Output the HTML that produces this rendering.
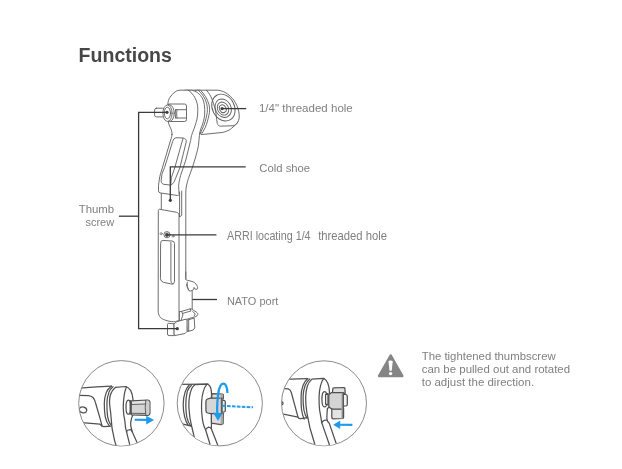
<!DOCTYPE html>
<html lang="en">
<head>
<meta charset="utf-8">
<title>Functions</title>
<style>
html,body{margin:0;padding:0;background:#fff;}
body{width:622px;height:469px;overflow:hidden;position:relative;font-family:"Liberation Sans",sans-serif;}
svg{position:absolute;left:0;top:0;display:block;will-change:transform;}
.h{font-family:"Liberation Sans",sans-serif;font-weight:bold;font-size:19.5px;fill:#474747;}
.t{font-family:"Liberation Sans",sans-serif;font-size:11px;fill:#808080;}
.ld{stroke:#3a3a3a;stroke-width:1.3;fill:none;}
.dot{fill:#3c3c3c;stroke:none;}
.d{stroke:#5c5c5c;stroke-width:0.9;fill:none;stroke-linecap:round;stroke-linejoin:round;}
.dw{stroke:#5c5c5c;stroke-width:0.9;fill:#fff;stroke-linecap:round;stroke-linejoin:round;}
.e{stroke:#505050;stroke-width:1.25;fill:none;stroke-linecap:round;stroke-linejoin:round;}
.ew{stroke:#505050;stroke-width:1.25;fill:#fff;stroke-linecap:round;stroke-linejoin:round;}
.c{stroke:#7d7d7d;stroke-width:0.9;fill:#fff;}
.b{stroke:#1e9bea;fill:none;}
.bf{fill:#1e9bea;stroke:none;}
</style>
</head>
<body>
<svg width="622" height="469" viewBox="0 0 622 469">
<rect x="0" y="0" width="622" height="469" fill="#ffffff"/>

<!-- TEXT -->
<g id="labels">
<text class="h" x="78.6" y="61.9" textLength="93.3" lengthAdjust="spacingAndGlyphs">Functions</text>
<text class="t" style="font-size:11.4px" x="258.9" y="111.6" textLength="93.9" lengthAdjust="spacingAndGlyphs">1/4" threaded hole</text>
<text class="t" style="font-size:11.4px" x="259.3" y="171.6" textLength="50.8" lengthAdjust="spacingAndGlyphs">Cold shoe</text>
<text class="t" x="78.7" y="212.8" textLength="35.5" lengthAdjust="spacingAndGlyphs">Thumb</text>
<text class="t" x="85.4" y="226" textLength="28.8" lengthAdjust="spacingAndGlyphs">screw</text>
<text class="t" style="font-size:12.4px" y="239.7" xml:space="preserve"><tspan x="227" textLength="83.6" lengthAdjust="spacingAndGlyphs">ARRI locating 1/4</tspan><tspan x="312" textLength="75" lengthAdjust="spacingAndGlyphs">  threaded hole</tspan></text>
<text class="t" x="226.9" y="304.7" textLength="51.5" lengthAdjust="spacingAndGlyphs">NATO port</text>
<text class="t" x="421.7" y="360" textLength="134" lengthAdjust="spacingAndGlyphs">The tightened thumbscrew</text>
<text class="t" x="421.7" y="373" textLength="148.4" lengthAdjust="spacingAndGlyphs">can be pulled out and rotated</text>
<text class="t" x="421.7" y="385.7" textLength="112.4" lengthAdjust="spacingAndGlyphs">to adjust the direction.</text>
</g>

<!-- DEVICE -->
<g id="device">
<!-- rosette cylinder -->
<path class="dw" d="M188 90.2H217.8C222 90.6 225.5 92.4 228 94.3C231.5 97 233.8 99.8 235.3 102.5C237.6 106.5 239 111 239.2 114.9C239.4 118 238.9 120.2 237.8 122C236.4 124 234.6 126 230 129.5C227.5 131 225 132 222 132.5L201 134.6L190 120Z"/>
<path class="d" d="M206.5 90.2C209 93 210.8 96 212.1 99.4C214 104.5 215.5 110 216.2 114.9C216.6 118 216.7 121 217.3 123.6C218 125.4 219.2 126.2 220.9 126.2L233.2 125.7C235.6 125.3 237.2 123.8 237.8 122"/>
<ellipse class="d" cx="223.4" cy="107.6" rx="11" ry="14" transform="rotate(-28 223.4 107.6)"/>
<ellipse class="d" cx="223.2" cy="108.2" rx="7.8" ry="9.6" transform="rotate(-28 223.2 108.2)"/>
<ellipse class="d" cx="223" cy="108.6" rx="5.4" ry="6.8" transform="rotate(-28 223 108.6)"/>
<ellipse class="d" cx="222.8" cy="108.7" rx="3.2" ry="4" transform="rotate(-28 222.8 108.7)"/>
<!-- flange -->
<path class="dw" d="M196 90.2H200.3C204 93.5 207.5 99 209 104.6C209.8 108 209.8 111.5 209 114.9C208 120 206.5 124.5 205.4 127.2L202.3 133L196 133Z"/>
<path class="d" d="M198.2 90.2C202 93.5 205.6 98.5 206.8 104C207.6 108 207.6 111.5 206.8 114.9C206 119.5 204.6 123.5 203.4 126.5L200.6 132.6"/>
<!-- arm thickness -->
<path d="M185 90.2H192C195.5 91 198.5 93 200.5 95.5C202.6 98 203.8 101 204.3 104.6C204.8 108 204.9 111.5 204.6 114.9C204.3 119 203 124 201 128.2C200 131 199.6 133 199.4 135.4C199 139 198.9 142.5 198.4 145.7C197.5 151 194.8 160 192.2 168L188.4 178.5C187 183 186 187 185.8 190.9V279.2L178 282V196L170 190Z" fill="#fff" stroke="none"/>
<path class="d" d="M185 90.2H192C195.5 91 198.5 93 200.5 95.5C202.6 98 203.8 101 204.3 104.6C204.8 108 204.9 111.5 204.6 114.9C204.3 119 203 124 201 128.2C200 131 199.6 133 199.4 135.4C199 139 198.9 142.5 198.4 145.7C197.5 151 194.8 160 192.2 168L188.4 178.5C187 183 186 187 185.8 190.9V279.2"/>
<!-- NATO hooks -->
<path class="dw" d="M185.8 272V279.2C186.2 280.1 187 280.3 188 280.4L193.2 281.8C195.4 283 197 285 197.4 286.6C197.8 288.2 197.6 289 197 289.2L194.9 289.1C194.4 288.6 194.1 288 194 287.4C193.9 288.4 193.8 289.2 193.3 289.8L190.8 291C189.8 291.2 189 290.8 188.6 290C187.6 288.4 186.8 286.4 186.5 284.3"/>
<path class="d" d="M187.3 282.2C186.8 285 187.4 288 188.9 290.4"/>
<path class="d" d="M192.2 291V309.4"/>
<path class="dw" d="M181.4 311.4L190.1 308.9C191 308.8 191.6 309 192.2 309.4L196.3 312C197.4 312.8 198 313.6 197.8 314.5C197.6 315.4 196.8 316.2 195.8 316.6L192.2 317.6L182.9 320.5L180.9 320.7L179.3 321.7V312Z"/>
<path class="d" d="M181.4 311.4L182.6 313.4L191 311L190.1 308.9M182.6 313.4L182.9 315L180.9 320.7M192.7 311.4L195.3 314L194.2 315.8"/>
<!-- clamp block -->
<path class="dw" d="M187 320.2L194.2 318.1L194.8 327.9L193.2 330L187.5 331.5Z"/>
<path class="d" d="M188.7 320V331.2"/>
<path class="dw" d="M167.5 324.3Q167.5 323.3 168.5 323.3L174.2 323.8V335.6H169Q167.5 335.6 167.5 334.4Z"/>
<path class="dw" d="M174.2 323.8L176.7 321.7L186 319.1L187 320.7V331.5L185 333.5L174.7 335.6L174.2 334Z"/>
<!-- upper segment -->
<path d="M161.3 192V210H179.6L181.7 215.4V191H179Z" fill="#fff" stroke="none"/>
<path class="d" d="M161.3 193V209.6M179.6 192V217L181.7 215.4V191"/>
<!-- plate -->
<path class="dw" d="M158.3 211C158.3 209.8 158.8 209.2 159.8 209.3L176.5 212.3C178.2 212.7 179 213.6 179 215V320.7L177.3 320.9C176 321.6 175 321.8 173.7 321.7C170.5 321.6 167.6 321 165.4 320.2C162.5 319.2 160.6 318 159.8 316.6C158.8 315 158.3 313.4 158.2 311.4Z"/>
<circle class="d" cx="167" cy="234.7" r="3.1"/>
<circle class="d" cx="167" cy="234.7" r="1.6"/>
<circle class="d" cx="161.1" cy="233.7" r="1.1" style="stroke-width:0.65"/>
<circle class="d" cx="173.1" cy="236.2" r="1" style="stroke-width:0.65"/>
<path class="d" d="M160.6 243Q160.6 240.3 163 240.4L172 241Q174.5 241.2 174.5 243.5V281.3Q174.3 284.2 172.2 284.2L163.4 282.3Q160.8 281.4 160.5 279.2Z"/>
<path class="d" d="M170.9 242.5V280.5Q171 283 172.6 284"/>
<!-- arm front face -->
<path class="dw" d="M172 134.5C172 132 171.5 130 170.6 128.2C169.5 126 168.6 124 168.3 122C167.6 116 167.4 108 168 102.5C168.5 99.5 169.6 97.5 171 96C172.6 93.8 174.6 92 176.5 91C177.6 90.4 178.5 90.2 180 90.2H188C190.5 91.5 193.3 94.5 195.3 98.4C197 102 197.8 105.5 197.8 109.7C197.8 113.5 197.6 117 196.8 120C196 123 194.5 128 193.2 131C192.2 133.5 191.6 135 191.2 137C190.9 138.6 190.8 139.6 190.6 140.6L185.8 160L180.6 175.4C179.4 180 178.8 183 178.6 185.7L178.9 190.9L179.1 194.5Q178.7 195.6 177.6 195.5L160 192.9Q158.6 192.4 158.5 190.9V185.7C159 181 159.6 177 160.6 173.4L162.3 168L171.1 138.5C171.6 137 172 136 172 134.5Z"/>
<!-- slot -->
<path class="d" d="M172.8 141Q173.8 137.8 176 137.7L183 138Q186.8 138.6 186.2 142L179.8 168L175.5 178.5Q174.6 183 170.9 185.2L163.1 184.2Q160.8 183 161.1 180.6L162.1 173.4L164.4 168Z"/>
<path class="d" d="M183 138.4L174.7 168L171.4 177.5L170.7 185"/>
<!-- knob -->
<rect class="dw" x="154.6" y="108.2" width="10" height="8.7" rx="1.8"/>
<path class="dw" d="M169 104H184.5Q186.5 104 186.5 106V119.5Q186.5 121.5 184.5 121.5H169Z"/>
<path class="d" d="M175.6 109.7H186.4M175.6 118H186.4M175.6 109.7Q174.8 114 175.6 118M177 109.7Q176.2 114 177 118"/>
<ellipse class="dw" cx="169.6" cy="113.2" rx="4.6" ry="8.3"/>
<ellipse class="dw" cx="167.5" cy="113.2" rx="4.6" ry="8.2"/>
<ellipse class="d" cx="167.4" cy="113" rx="3.1" ry="5.8"/>
</g>

<!-- LEADERS -->
<g id="leaders">
<path class="ld" d="M167 112.3H138.6V328.7H177.3"/>
<path class="ld" d="M118.9 216.2H138.6"/>
<path class="ld" d="M222.1 108.6H246.2"/>
<path class="ld" d="M170.3 200.3V166.8H245.7"/>
<path class="ld" d="M167 234.9H216.4"/>
<path class="ld" d="M192.3 299.5H217"/>
<circle class="dot" cx="167" cy="112.3" r="1.6"/>
<circle class="dot" cx="177.3" cy="328.7" r="1.6"/>
<circle class="dot" cx="222.1" cy="108.6" r="1.6"/>
<circle class="dot" cx="170.3" cy="200.3" r="1.6"/>
<circle class="dot" cx="167" cy="234.9" r="1.6"/>
</g>

<!-- WARNING -->
<g id="warn">
<path d="M390.7 355.6L402.2 376H379.2Z" fill="#858585" stroke="#858585" stroke-width="2.6" stroke-linejoin="round"/>
<path d="M388.5 361.6Q388.5 360.6 390.6 360.6Q392.7 360.6 392.7 361.6L391.7 370.8H389.5Z" fill="#fff"/>
<circle cx="390.6" cy="373.6" r="1.7" fill="#fff"/>
</g>

<!-- CIRCLES -->
<g id="c1">
<clipPath id="cp1"><circle cx="121.4" cy="403.3" r="42.3"/></clipPath>
<circle class="c" cx="121.4" cy="403.3" r="42.7"/>
<g clip-path="url(#cp1)">
<!-- cylinder -->
<path class="e" d="M76 388.4L96.6 386.8L111.5 386.2"/>
<path class="e" d="M76 395.4L88.3 395.7C90.5 395.9 92 396.5 93 397.5C94.2 398.8 95 400.6 95.5 402.7L99.7 417.1L101.8 425.2Q102.2 426.6 103.6 426.6L110.6 426.2"/>
<path class="e" d="M76 422L99.8 424.1L102 426.2"/>
<ellipse class="e" cx="83" cy="409.9" rx="3.7" ry="2.9" transform="rotate(15 83 409.9)"/>
<!-- flange -->
<path class="e" d="M111.5 386.2C108.8 388 107.2 390 106.3 392.4C104.9 396 104.3 400 104.3 403.7C104.3 408.5 104.6 413 105.3 417.1C106 420.5 107.6 424 109.5 426.2"/>
<path class="e" d="M113 386.7C111 388.2 109.8 390 108.9 392.4C107.5 396 106.9 400 106.9 403.7C106.9 408.5 107.1 413 107.7 417.1C108.4 420.5 110 424 112.1 425.9"/>
<!-- arm -->
<path class="ew" d="M115.6 387.3L125.4 386.5C127.6 387 129.4 388.4 130.6 390.4C132 393 132.8 396 133 399.6V415C131.6 417 131 419.5 130.7 422.6C130.6 424.5 130.8 426 131.2 427.7L132.2 431.8L136.8 442.1L140 449H117.3L114.7 441.1L112.1 428.7L110.6 412.3C110 408 109.5 404 109.5 402C109.6 398 110.2 395 111 393.4C112 391 113.6 389 115.6 387.3Z"/>
<path class="e" d="M126.6 386.7C125 390 124.2 394 123.8 398.6C123.4 402 123.2 405.5 123.3 408.9C123.4 413 124 417 124.9 421.2L125.5 427.7L129.6 444.2L131 449"/>
<path class="e" d="M126.6 432.2C126.6 431 127.2 430.3 128.2 430L130.6 429.7C131.4 429.8 131.9 430.6 132.2 431.8"/>
<!-- washer -->
<ellipse class="ew" cx="128.4" cy="407.2" rx="2.4" ry="7"/>
<path class="e" d="M130.2 400.6V414"/>
<!-- hex knob -->
<path class="ew" style="fill:#e6e6e6" d="M131.3 400.8L147.6 400Q149.9 400.3 149.9 402.3V413.1Q149.9 415.2 147.6 415.4L131.3 414.8Z"/>
<path d="M131.9 404.6L145.4 404.2V413.4L131.9 413.2Z" fill="#d5d5d5"/>
<path d="M145.8 400.6L147.6 400.5Q149.4 400.7 149.4 402.3V413.1Q149.4 414.8 147.6 414.9L145.8 415Q144.8 407.6 145.8 400.6Z" fill="#cdcdcd"/>
<path class="e" style="stroke-width:0.9" d="M131.5 404.5L145.4 404M131.5 413.3L145.4 413.5M145.8 400.2Q144.6 407.6 145.8 415.3"/>
<!-- arrow -->
<path class="b" d="M134.6 419.8L147 419.9" stroke-width="2.1"/>
<path class="bf" d="M146.2 415.7L154.1 420.1L146.2 424.5Z"/>
</g>
</g>
<g id="c2">
<clipPath id="cp2"><circle cx="219.8" cy="403.3" r="42.2"/></clipPath>
<circle class="c" cx="219.8" cy="403.3" r="42.6"/>
<g clip-path="url(#cp2)">
<!-- cylinder -->
<path class="e" d="M176 384.5L208 384.2"/>
<path class="e" d="M176 422.5L191.7 426.2"/>
<!-- flange -->
<path class="e" d="M189.4 384.7C187.4 386.6 186.2 388.8 185.3 391.4C183.9 395.6 183.2 400 183.2 404.8C183.2 409 183.7 413.4 184.7 417.2C185.4 420 186.6 423 188.3 425.6"/>
<path class="e" d="M191.4 385.3C189.4 387 188.2 389 187.3 391.4C186.3 395.6 185.8 400 185.8 404.8C185.8 409 186.1 413.4 186.8 417.2C187.4 420 188.8 423.4 190.8 426.2"/>
<!-- arm -->
<path class="ew" d="M195 384.7L207.9 384.2C209.2 385 210 386 210.5 387.3C211.2 389.2 211.5 391.2 211.5 393.5V424L211.3 428.7L217.4 444.2L219 449H197.5L194 436L191.6 426C190.4 421.6 189.4 415.5 189 409C188.8 405 188.8 400.5 189.4 397C190 393 190.9 390.2 192 388C192.8 386.6 193.8 385.5 195 384.7Z"/>
<path class="e" d="M206.9 384.4C205 386.4 204 388.6 203.3 391.4C202.4 394.6 201.8 398 201.7 401.7C201.5 405 201.5 408.6 201.7 412C202 416 202.4 419.5 203 422.6C203.6 425.4 204.4 427.6 205.6 429.8L209.7 443.2L211 449"/>
<path class="e" d="M205.6 429.8C206.4 428.4 207.4 427.4 208.7 427.2C209.8 427.2 210.6 427.8 211.3 428.7"/>
<!-- T knob -->
<path class="ew" style="fill:#dcdcdc" d="M211.8 398.6V394.4Q211.9 393.6 212.8 393.6L222.4 394Q223.3 394.1 223.3 395V398.8Z"/>
<path class="ew" style="fill:#ececec" d="M221.6 400.2L224 400.4Q225.3 400.6 225.3 402V410.4Q225.3 411.8 224 412L221.6 412.2Z"/>
<path class="ew" style="fill:#dedede" d="M211.4 413V423.1L221 424.6L223.1 423.6L223.3 413Z"/>
<path class="ew" style="fill:#d6d6d6" d="M205.9 401.4Q205.9 399.6 207.6 399L210.4 398.2H221.8V413.6H210.6L207.6 413Q205.9 412.4 205.9 410.8Z"/>
<path d="M220.3 394.2H222.6V424L220.6 424.4Z" fill="#a9a9a9"/>
<path class="e" d="M221.8 398.2V413.6"/>
<!-- rotation arrow -->
<path class="b" d="M227.4 392.9C227.4 390.4 227 388 226.3 386.4C225.6 384.7 224.6 383.7 223.3 383.7C222 383.7 221 384.6 220.2 386.2C219.2 388.2 218.5 391 218.1 394.5C217.5 399 217.2 404 217.1 408.9L217.5 414" stroke-width="2.3"/>
<path class="bf" d="M213 412.4L222.3 413.4L218 420.9Z"/>
<path class="b" d="M222.2 405.8L253 407.3" stroke-width="2" stroke-dasharray="3.6 1.3"/>
</g>
</g>
<g id="c3">
<clipPath id="cp3"><circle cx="324" cy="403.3" r="42.1"/></clipPath>
<circle class="c" cx="324" cy="403.3" r="42.5"/>
<g clip-path="url(#cp3)">
<!-- cylinder -->
<path class="e" d="M280 379.6L290.3 379.1L307.8 378.6"/>
<path class="e" d="M280 388.2L288.2 388.9C289.8 389.4 290.8 390.6 291.3 392.5L298 417.2Q298.6 418.8 300.6 418.7L307.8 417.7"/>
<path class="e" d="M280 413.4L298 417.2"/>
<ellipse class="e" cx="282.2" cy="403.3" rx="0.8" ry="1.4"/>
<!-- flange -->
<path class="e" d="M307.8 378.6C305.6 380.4 304.2 382.6 303.1 385.3C301.8 388.8 301.1 392.6 301.1 396.6C301 401 301 405.6 301.6 410C302.1 413.4 303 416.6 304.2 419.2"/>
<path class="e" d="M309.8 378.9C307.6 380.6 306.2 382.8 305.2 385.3C303.9 388.8 303.2 392.6 303.1 396.6C303 401 303.2 405.6 303.9 410C304.5 413.2 305.6 416 307 418.2"/>
<!-- arm -->
<path class="ew" d="M311.9 379.1L323.7 378.3C325.6 379.6 327 381.2 327.8 383.2C328.8 385.6 329.4 388.4 329.4 391.4V407L327.4 408.6C327 412.5 326.8 416 326.9 419.5C327.4 421.4 328.2 422.6 329.4 423.6L336.1 443.2L338 449H316.4L314.5 443.2L309.9 427.7L306.8 412.3C306 407 305.6 401.6 305.7 396.6C305.8 393 306.3 389.4 307.3 386.3C308.3 383.4 309.8 381 311.9 379.1Z"/>
<path class="e" d="M323.7 378.6C322 380.6 321.2 382.8 320.6 385.3C319.6 389 319.2 392.8 319.1 396.6C319 401 319.1 405.6 319.6 410L321.2 419.2L321.7 422.6L328.9 443.2L330.6 449"/>
<path class="e" d="M321.7 422.8C322.4 421.4 323.2 420.7 324.3 420.4L326.9 420"/>
<!-- washer -->
<ellipse class="ew" cx="324.6" cy="399.2" rx="2.7" ry="7.7"/>
<path class="ew" d="M325.6 394.4L328 393.6V404.8L325.6 404.2Z"/>
<!-- T knob -->
<path class="ew" style="fill:#e0e0e0" d="M332.3 393.4L332.9 388.6Q333 387.9 333.8 387.9L344 387.5Q344.8 387.5 344.9 388.3L345.2 393.4Z"/>
<path class="ew" style="fill:#f2f2f2" d="M342.4 394.2L345.8 394.5Q347.3 394.8 347.3 396.2V404.4Q347.3 405.8 345.8 406L342.4 406.2Z"/>
<path class="ew" style="fill:#e4e4e4" d="M331.8 408.6V417.4Q331.9 418.8 333.2 418.9L342.6 418.5Q343.6 418.4 343.6 417.3V408.6Z"/>
<path class="ew" style="fill:#d4d4d4" d="M328.8 395.2Q328.9 394.4 329.6 394L331 392.9Q331.4 392.7 332 392.7L342.8 392.6V409.2H333Q331.6 409 330.6 408.2L329.4 407.2Q328.8 406.8 328.8 406Z"/>
<path d="M341.4 392.8H343.3V418.3L341.4 418.4Z" fill="#a8a8a8"/>
<path class="e" d="M343.3 392.7V409.2V417.6"/>
<!-- arrow -->
<path class="b" d="M339.5 424.8L352.4 424.9" stroke-width="2.1"/>
<path class="bf" d="M340.2 420.6L333.2 424.7L340.2 429.1Z"/>
</g>
</g>
</svg>
</body>
</html>
